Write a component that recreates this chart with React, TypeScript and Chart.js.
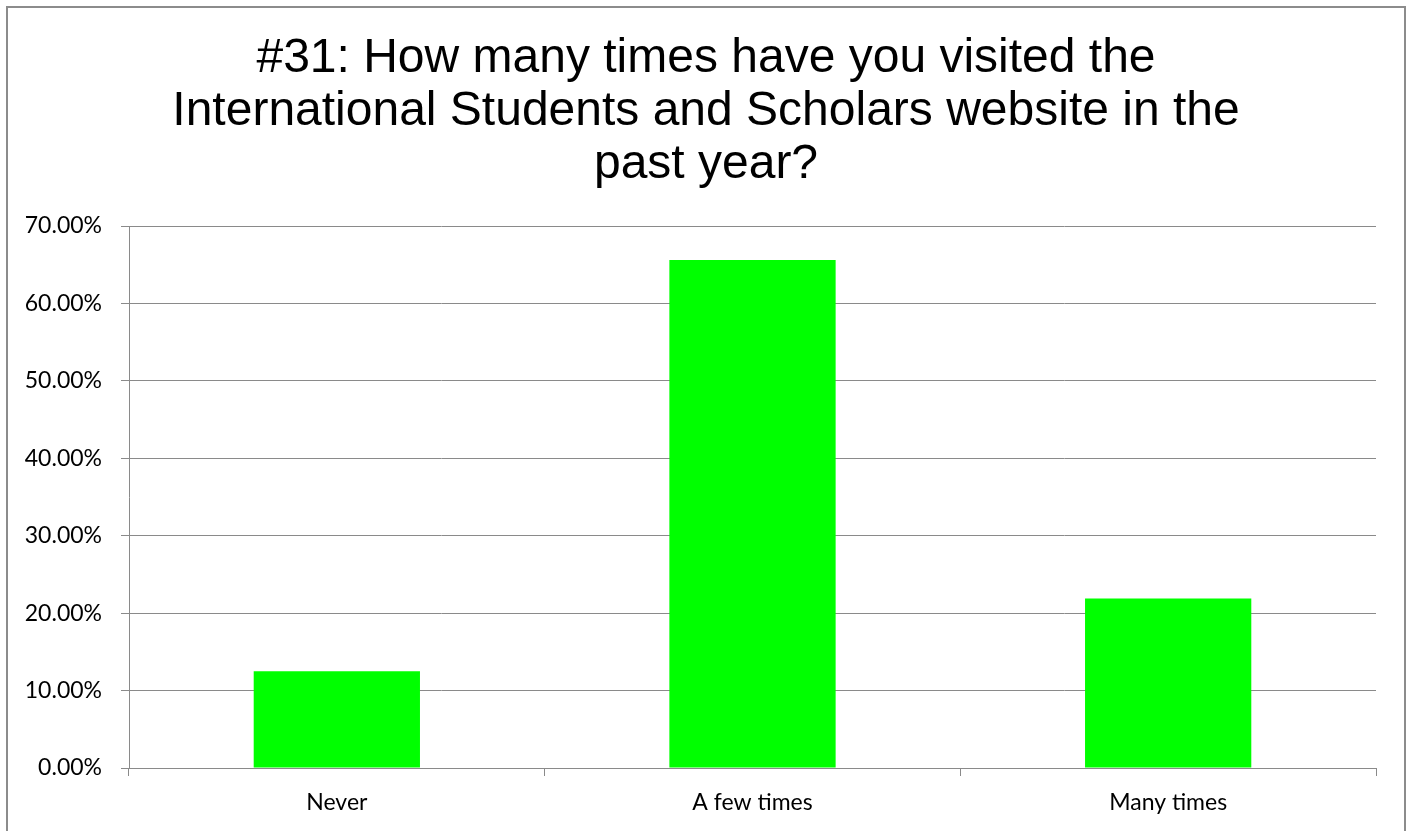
import React, { useEffect, useRef } from "react";
import { Chart, registerables } from "chart.js";

Chart.register(...registerables);

const titleLines = [
  "#31: How many times have you visited the",
  "International Students and Scholars website in the",
  "past year?",
];
const categories = ["Never", "A few times", "Many times"];
const percentages = [12.5, 65.6, 21.9];
const yTicks = [0, 10, 20, 30, 40, 50, 60, 70];

const GRID = "#8a8a8a";

const titlePlugin = {
  id: "centeredTitle",
  afterDraw(chart: any) {
    const ctx = chart.ctx;
    ctx.save();
    ctx.fillStyle = "#000";
    ctx.font = "48px 'Liberation Sans', Arial, sans-serif";
    ctx.textAlign = "center";
    ctx.textBaseline = "alphabetic";
    const cx = chart.width / 2;
    titleLines.forEach((line, i) => {
      ctx.fillText(line, cx, 64 + i * 53);
    });
    ctx.restore();
  },
};

export default function App() {
  const ref = useRef<HTMLCanvasElement | null>(null);

  useEffect(() => {
    if (!ref.current) return;
    const chart = new Chart(ref.current, {
      type: "bar",
      data: {
        labels: categories,
        datasets: [
          {
            data: percentages,
            backgroundColor: "#00ff00",
            borderWidth: 0,
            barPercentage: 0.4,
            categoryPercentage: 1,
          },
        ],
      },
      options: {
        responsive: false,
        animation: false,
        layout: { padding: { left: 0, right: 28, top: 218, bottom: 0 } },
        plugins: {
          legend: { display: false },
          tooltip: { enabled: false },
          title: { display: false },
        },
        scales: {
          x: {
            grid: {
              display: true,
              offset: true,
              drawOnChartArea: false,
              drawTicks: true,
              tickLength: 8,
              color: GRID,
              lineWidth: 1,
            },
            border: { display: true, color: GRID, width: 1 },
            ticks: {
              color: "#000",
              padding: 13,
              font: { family: "Lato, 'Open Sans', sans-serif", size: 23 },
            },
            afterFit: (scale: any) => {
              scale.height = 63;
            },
          },
          y: {
            min: 0,
            max: 70,
            afterBuildTicks: (scale: any) => {
              scale.ticks = yTicks.map((v) => ({ value: v }));
            },
            grid: {
              color: GRID,
              lineWidth: 1,
              drawTicks: true,
              tickLength: 8,
            },
            border: { display: true, color: GRID, width: 1 },
            ticks: {
              color: "#000",
              padding: 19,
              font: { family: "Lato, 'Open Sans', sans-serif", size: 23 },
              callback: (v: any) => Number(v).toFixed(2) + "%",
            },
            afterFit: (scale: any) => {
              scale.width = 121;
            },
          },
        },
      },
      plugins: [titlePlugin],
    });
    return () => chart.destroy();
  }, []);

  return (
    <div
      style={{
        position: "absolute",
        left: 6,
        top: 6,
        width: 1400,
        height: 825,
        boxSizing: "border-box",
        borderTop: "2px solid #8c8c8c",
        borderLeft: "2px solid #8c8c8c",
        borderRight: "2px solid #8c8c8c",
        background: "#fff",
      }}
    >
      <canvas ref={ref} width={1396} height={823} style={{ display: "block" }} />
    </div>
  );
}
